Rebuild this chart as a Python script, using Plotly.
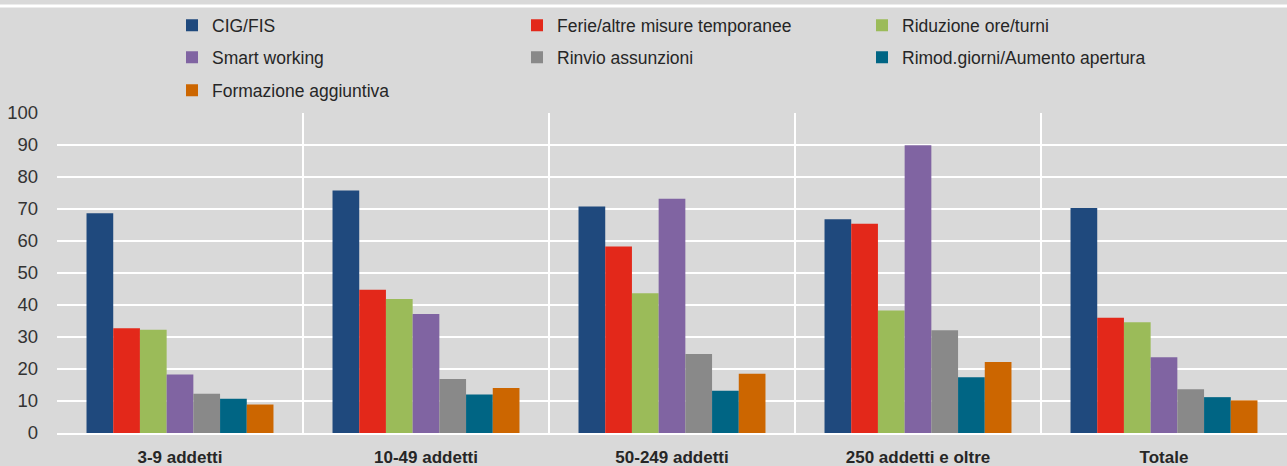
import plotly.graph_objects as go

categories = ["3-9 addetti", "10-49 addetti", "50-249 addetti", "250 addetti e oltre", "Totale"]

series_names = [
    "CIG/FIS",
    "Ferie/altre misure temporanee",
    "Riduzione ore/turni",
    "Smart working",
    "Rinvio assunzioni",
    "Rimod.giorni/Aumento apertura",
    "Formazione aggiuntiva",
]

cig_fis = [68.7, 75.8, 70.8, 66.8, 70.3]
ferie = [32.7, 44.8, 58.3, 65.4, 36.0]
riduzione = [32.3, 41.9, 43.7, 38.3, 34.6]
smart_working = [18.3, 37.2, 73.2, 89.9, 23.7]
rinvio = [12.3, 16.9, 24.7, 32.1, 13.7]
rimod = [10.7, 12.0, 13.2, 17.4, 11.2]
formazione = [8.9, 14.1, 18.5, 22.2, 10.2]

series_values = [cig_fis, ferie, riduzione, smart_working, rinvio, rimod, formazione]
colors = ["#1F497D", "#E3281A", "#9BBB59", "#8064A2", "#898989", "#006584", "#CC6600"]
legend_rows = ["legend", "legend", "legend", "legend2", "legend2", "legend2", "legend3"]

y_ticks = [0, 10, 20, 30, 40, 50, 60, 70, 80, 90, 100]

fig = go.Figure()
for name, vals, col, lg in zip(series_names, series_values, colors, legend_rows):
    fig.add_trace(go.Bar(
        name=name, x=categories, y=vals, legend=lg,
        marker=dict(color=col, line=dict(width=0)),
    ))

BG = "#D9D9D9"
LEG_X = 0.0935
row_y = [1.33, 1.23, 1.127]


def leg(y):
    return dict(
        orientation="h", x=LEG_X, xanchor="left", y=y, yanchor="top",
        entrywidth=300, entrywidthmode="pixels",
        font=dict(size=17.5, color="#262626"),
        bgcolor="rgba(0,0,0,0)", traceorder="normal",
    )


fig.update_layout(
    width=1287, height=466,
    margin=dict(l=57, r=0, t=113, b=33, autoexpand=False),
    paper_bgcolor=BG, plot_bgcolor=BG,
    barmode="group", bargap=0.24, bargroupgap=0,
    font=dict(family="Arial, Liberation Sans, sans-serif", color="#333333", size=17),
    showlegend=True,
    legend=leg(row_y[0]),
    legend2=leg(row_y[1]),
    legend3=leg(row_y[2]),
    xaxis=dict(
        type="category", tickson="boundaries", showgrid=True,
        gridcolor="white", gridwidth=2,
        showline=True, linecolor="white", linewidth=2,
        ticks="", ticklabelstandoff=8, automargin=False,
        tickfont=dict(size=17, color="#262626", family="Arial, Liberation Sans, sans-serif", weight="bold"),
        range=[-0.5, 4.5],
    ),
    yaxis=dict(
        range=[0, 100], tickvals=y_ticks, showgrid=True,
        gridcolor="white", gridwidth=2, zeroline=False,
        ticks="", ticklabelstandoff=18, automargin=False,
        tickfont=dict(size=18.5, color="#333333"),
    ),
    shapes=[dict(
        type="line", xref="paper", yref="paper",
        x0=-57 / 1230, x1=1.0, y0=1 + (113 - 6) / 320, y1=1 + (113 - 6) / 320,
        line=dict(color="white", width=3),
    )],
)

fig.write_html(
    "out.html",
    config={"displayModeBar": False},
    post_script="document.body.style.margin='0';document.body.style.overflow='hidden';",
)
